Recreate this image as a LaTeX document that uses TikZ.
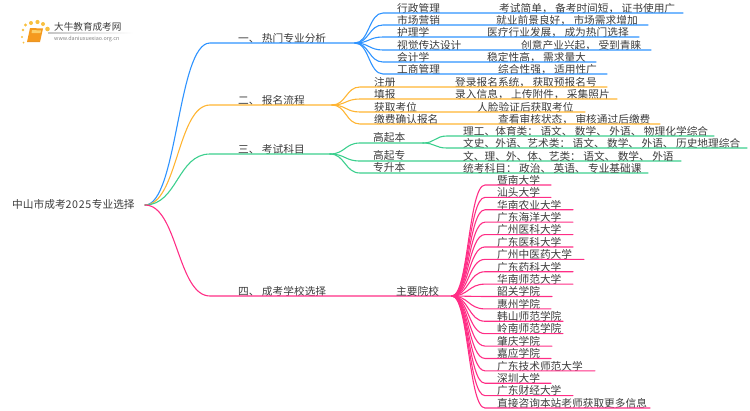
\documentclass[tikz,border=0pt]{standalone}
\usepackage{fontspec}
\setmainfont{Noto Sans CJK SC}
\usetikzlibrary{calc}
\definecolor{cblue}{HTML}{2E93FF}
\definecolor{corange}{HTML}{FFB533}
\definecolor{cgreen}{HTML}{3CCF8E}
\definecolor{cpink}{HTML}{FF2E86}
\definecolor{ctext}{HTML}{3C3C3C}
\definecolor{cdot}{HTML}{F8C040}
\definecolor{cbook}{HTML}{F59A1E}
\definecolor{cpage}{HTML}{FBD06A}
\tikzset{
  txt/.style={anchor=base west,inner sep=0pt,text=ctext,font=\fontsize{10.7}{12}\selectfont},
  wire/.style={line width=1.1pt,line cap=round}
}
% curve from hub #1 to #2, then straight to #3
\newcommand\branch[4]{\draw[wire,#4] let \p1=(#1),\p2=(#2),\n1={(\x1+\x2)/2} in (#1) .. controls (\n1,\y1) and (\n1,\y2) .. (#2) -- (#3);}
\begin{document}
\begin{tikzpicture}[x=1pt,y=-1pt]
\useasboundingbox (0,0) rectangle (750,410);
% logo
\foreach \i/\x/\y/\r in {1/23/30/1.4,2/25.5/25/1.7,3/31/23/2,4/37.5/22/2.1,5/43/24/2,6/47.5/29/2.3,7/22/37/1.2,8/23.5/42.5/1}
  \fill[cdot] (\x,\y) circle (\r);
\fill[cbook] (30,28) -- (43,28.5) -- (40,42) -- (27,42) -- cycle;
\fill[cpage] (32,30) -- (41,30.5) -- (40.5,33) -- (31.5,33) -- cycle;
\draw[cbook!80!brown,line width=.6pt] (27.5,41) -- (39.5,41);
\shade[left color=gray!45,right color=white] (48,32.8) rectangle (133,33.6);
\node[txt,font=\fontsize{9.6}{11}\selectfont] (logot) at (54,30.2) {大牛教育成考网};
\node[txt,font=\fontsize{5.4}{7}\selectfont,text=gray] (logou) at (54,40.4) {www.daniuxuexiao.org.cn};
% root
\node[txt] (root) at (12,208.9) {中山市成考2\kern.6pt0\kern.6pt2\kern.6pt5\kern.6pt专业选择};
\coordinate (hub) at (145,205);
% main branches
\foreach \k/\y/\e/\c/\t in {a/43/355/cblue/一、 热门专业分析,b/105/332/corange/二、 报名流程,c/154/330/cgreen/三、 考试科目,d/296/452/cpink/四、 成考学校选择}{
  \coordinate (\k s) at (210,\y);
  \coordinate (\k h) at (\e,\y);
  \node[txt] (\k) at (238,\y-0.6) {\t};
  \branch{hub}{\k s}{\k h}{\c}
}
% blue children
\foreach \k/\y/\e/\l/\rx/\r in {
 a1/13/683/行政管理/499/考试简单， 备考时间短， 证书使用广,
 a2/25/648/市场营销/496/就业前景良好， 市场需求增加,
 a3/37/639/护理学/487/医疗行业发展， 成为热门选择,
 a4/50/651/视觉传达设计/521/创意产业兴起， 受到青睐,
 a5/62/596/会计学/487/稳定性高， 需求量大,
 a6/74/607/工商管理/498/综合性强， 适用性广}{
  \coordinate (\k s) at (383,\y);
  \coordinate (\k e) at (\e,\y);
  \node[txt] (\k l) at (397,\y-0.8) {\l};
  \node[txt] (\k r) at (\rx,\y-0.8) {\r};
  \branch{ah}{\k s}{\k e}{cblue}
}
% orange children
\foreach \k/\y/\e/\l/\rx/\r in {
 b1/87/607/注册/455/登录报名系统， 获取预报名号,
 b2/99/617/填报/455/录入信息， 上传附件， 采集照片,
 b3/112/585/获取考位/477/人脸验证后获取考位,
 b4/124/660/缴费确认报名/498/查看审核状态， 审核通过后缴费}{
  \coordinate (\k s) at (360,\y);
  \coordinate (\k e) at (\e,\y);
  \node[txt] (\k l) at (374,\y-0.8) {\l};
  \node[txt] (\k r) at (\rx,\y-0.8) {\r};
  \branch{bh}{\k s}{\k e}{corange}
}
% green children
\foreach \k/\y/\e/\l in {c1/143/423/高起本,c2/161/681/高起专,c3/173/648/专升本}{
  \coordinate (\k s) at (360,\y);
  \coordinate (\k e) at (\e,\y);
  \node[txt] (\k l) at (373,\y-1.6) {\l};
  \branch{ch}{\k s}{\k e}{cgreen}
}
\foreach \k/\y/\e/\r in {
 c11/136/714/理工、体育类： 语文、 数学、 外语、 物理化学综合,
 c12/148/747/文史、外语、艺术类： 语文、 数学、 外语、 历史地理综合}{
  \coordinate (\k s) at (447,\y);
  \coordinate (\k e) at (\e,\y);
  \node[txt] (\k r) at (463,\y-0.8) {\r};
  \branch{c1e}{\k s}{\k e}{cgreen}
}
\node[txt] (c2r) at (463,160.2) {文、理、外、体、艺类： 语文、 数学、 外语};
\node[txt] (c3r) at (463,172.2) {统考科目： 政治、 英语、 专业基础课};
% pink children
\node[txt] (d0) at (396,295.6) {主要院校};
\foreach \i/\e/\t in {
 0/551/暨南大学,1/551/汕头大学,2/573/华南农业大学,3/573/广东海洋大学,4/573/广州医科大学,
 5/573/广东医科大学,6/584/广州中医药大学,7/573/广东药科大学,8/573/华南师范大学,9/552/韶关学院,
 10/551/惠州学院,11/563/韩山师范学院,12/563/岭南师范学院,13/552/肇庆学院,14/551/嘉应学院,
 15/595/广东技术师范大学,16/551/深圳大学,17/573/广东财经大学,18/650/直接咨询本站老师获取更多信息}{
  \coordinate (d\i s) at (485,185+12.39*\i);
  \coordinate (d\i e) at (\e,185+12.39*\i);
  \node[txt] (d\i t) at (497,184.3+12.39*\i) {\t};
  \branch{dh}{d\i s}{d\i e}{cpink}
}
\end{tikzpicture}
\end{document}
